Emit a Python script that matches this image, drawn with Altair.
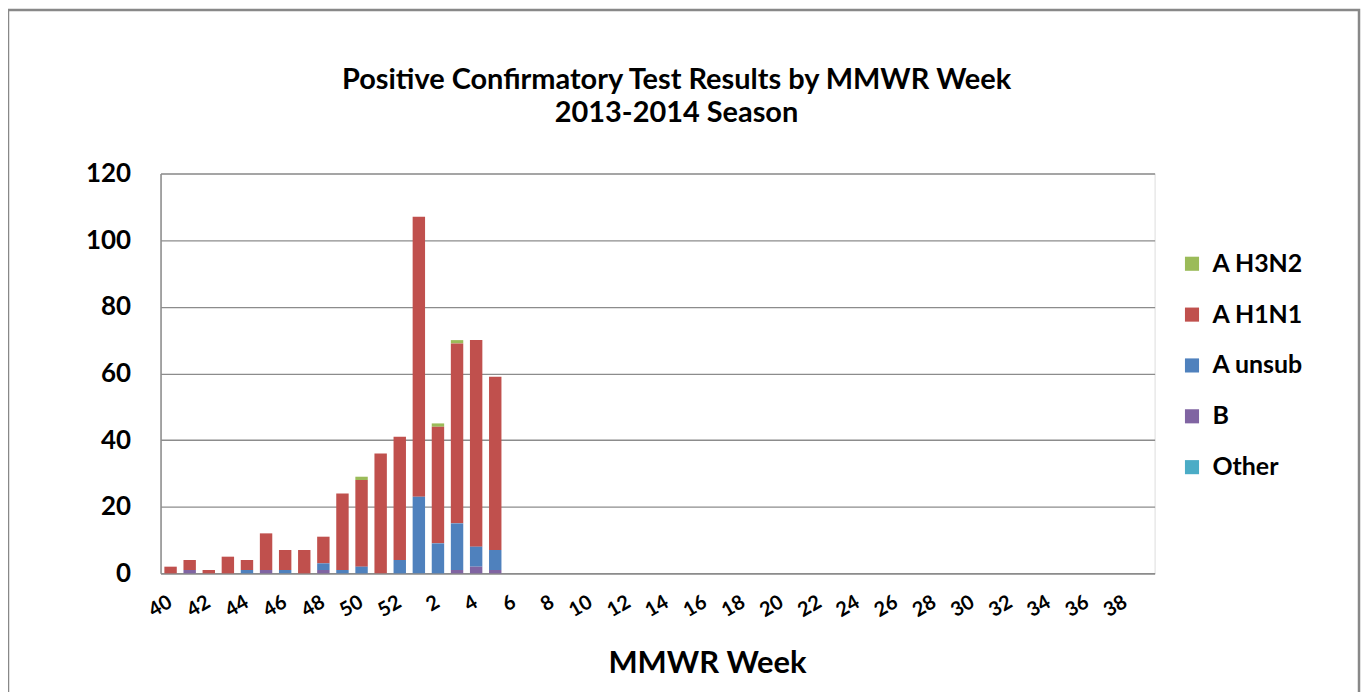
import altair as alt
import pandas as pd

# ---- data ----
weeks = [str(w) for w in list(range(40, 53)) + list(range(1, 40))]
week_tick_labels = [str(w) for w in list(range(40, 53, 2)) + list(range(2, 39, 2))]

series_names = ["A H3N2", "A H1N1", "A unsub", "B", "Other"]
series_colors = ["#9BBB59", "#C0504D", "#4F81BD", "#8064A2", "#4BACC6"]
stack_order = [5, 4, 3, 2, 1]  # Other at the bottom, A H3N2 on top

a_h3n2 = [0, 0, 0, 0, 0, 0, 0, 0, 0, 0, 1, 0, 0, 0, 1, 1, 0, 0] + [0] * 34
a_h1n1 = [2, 3, 1, 5, 3, 11, 6, 7, 8, 23, 26, 36, 37, 84, 35, 54, 62, 52] + [0] * 34
a_unsub = [0, 0, 0, 0, 1, 0, 1, 0, 2, 1, 2, 0, 4, 23, 9, 14, 6, 6] + [0] * 34
b_vals = [0, 1, 0, 0, 0, 1, 0, 0, 1, 0, 0, 0, 0, 0, 0, 1, 2, 1] + [0] * 34
other = [0] * 52

series_values = [a_h3n2, a_h1n1, a_unsub, b_vals, other]

rows = []
for name, order, vals in zip(series_names, stack_order, series_values):
    for w, v in zip(weeks, vals):
        rows.append({"week": w, "type": name, "count": v, "ord": order})
df = pd.DataFrame(rows)

FONT = "Lato"

bars = alt.Chart(df).mark_bar().encode(
    x=alt.X(
        "week:N",
        sort=weeks,
        scale=alt.Scale(paddingInner=0.35, paddingOuter=0.2),
        axis=alt.Axis(
            values=week_tick_labels,
            labelAngle=-30,
            labelAlign="right",
            labelBaseline="middle",
            labelPadding=27,
            labelFont=FONT,
            labelFontSize=20,
            labelFontWeight="bold",
            labelColor="black",
            ticks=False,
            domainColor="#8c8c8c",
            domainWidth=1.5,
            title="MMWR Week",
            titleFont=FONT,
            titleFontSize=31,
            titleFontWeight="bold",
            titleColor="black",
            titleX=548,
            titleY=90,
            titleAlign="center",
            titleBaseline="middle",
            labelOverlap=False,
        ),
    ),
    y=alt.Y(
        "count:Q",
        stack="zero",
        scale=alt.Scale(domain=[0, 120], nice=False),
        axis=alt.Axis(
            values=[0, 20, 40, 60, 80, 100, 120],
            title=None,
            labelFont=FONT,
            labelFontSize=26,
            labelFontWeight="bold",
            labelColor="black",
            labelPadding=30,
            ticks=False,
            domainColor="#8c8c8c",
            domainWidth=1.5,
            gridColor="#8c8c8c",
            gridWidth=1.3,
        ),
    ),
    color=alt.Color(
        "type:N",
        scale=alt.Scale(domain=series_names, range=series_colors),
        legend=alt.Legend(
            title=None,
            orient="none",
            legendX=1022,
            legendY=78,
            symbolType="square",
            symbolSize=200,
            symbolStrokeWidth=0,
            labelFont=FONT,
            labelFontSize=25,
            labelFontWeight="bold",
            labelColor="black",
            rowPadding=25,
            labelOffset=8,
            padding=0,
        ),
    ),
    order=alt.Order("ord:Q", sort="ascending"),
)

frame = alt.Chart(alt.Data(values=[{}])).mark_rect(
    fill=None, stroke="#888888", strokeWidth=2.5
).encode(
    x=alt.value(-153),
    x2=alt.value(1202),
    y=alt.value(-164),
    y2=alt.value(700),
)

chart = alt.layer(frame, bars).properties(
    width=997,
    height=401,
    autosize=alt.AutoSizeParams(type="none"),
    padding={"left": 153, "top": 165, "right": 207, "bottom": 118},
    title=alt.Title(
        ["Positive Confirmatory Test Results by MMWR Week", "2013-2014 Season"],
        font=FONT,
        fontSize=29,
        fontWeight="bold",
        color="black",
        anchor="middle",
        frame="group",
        dx=19,
        offset=-120,
        lineHeight=34,
    ),
).configure_view(
    stroke="#8c8c8c", strokeWidth=1.5
).configure(background="white")

chart.save("out.html", embed_options={"renderer": "svg", "actions": False})
